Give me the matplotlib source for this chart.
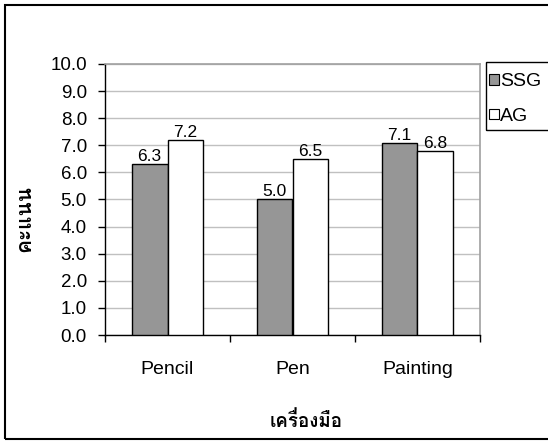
import matplotlib
matplotlib.use("Agg")
import matplotlib.pyplot as plt
from matplotlib.patches import Rectangle, Patch
import numpy as np

# Scores per drawing tool for each group
tools = ["Pencil", "Pen", "Painting"]
ssg_scores = [6.3, 5.0, 7.1]
ag_scores = [7.2, 6.5, 6.8]
series_names = ["SSG", "AG"]
y_ticks = [0.0, 1.0, 2.0, 3.0, 4.0, 5.0, 6.0, 7.0, 8.0, 9.0, 10.0]

LATIN = "Liberation Sans"
THAI = "Loma"

W, H = 548, 442
fig = plt.figure(figsize=(W / 100, H / 100), dpi=100)

def px_rect(x0, y0, x1, y1):
    """Pixel box (from top-left) to figure-fraction [left, bottom, width, height]."""
    return [x0 / W, 1 - y1 / H, (x1 - x0) / W, (y1 - y0) / H]

ax = fig.add_axes(px_rect(105, 64, 480, 335))

x = np.arange(len(tools))
bw = 1 / 3.5
b1 = ax.bar(x - bw / 2, ssg_scores, bw, color="#969696", edgecolor="black",
            linewidth=1.0, label=series_names[0], zorder=3)
b2 = ax.bar(x + bw / 2, ag_scores, bw, color="white", edgecolor="black",
            linewidth=1.0, label=series_names[1], zorder=3)
for bars in (b1, b2):
    ax.bar_label(bars, fmt="%.1f", padding=0, fontsize=12.5, family=LATIN)

ax.set_xlim(-0.5, len(tools) - 0.5)
ax.set_ylim(0, 10)
ax.set_yticks(y_ticks)
ax.set_yticklabels([f"{v:.1f}" for v in y_ticks], family=LATIN, fontsize=13.5)
ax.tick_params(axis="y", direction="out", length=5, width=1, pad=8)

# category boundaries carry the tick marks, centres carry the names
ax.set_xticks(np.arange(len(tools) + 1) - 0.5)
ax.set_xticklabels([])
ax.set_xticks(x, minor=True)
ax.set_xticklabels(tools, minor=True, family=LATIN, fontsize=14)
ax.tick_params(axis="x", which="major", direction="out", length=5, width=1)
ax.tick_params(axis="x", which="minor", length=0, pad=18.5)

ax.yaxis.grid(True, color="#c0c0c0", linewidth=1.0, zorder=0)
ax.set_axisbelow(True)
for side in ("top", "right"):
    ax.spines[side].set_color("#a0a0a0")
    ax.spines[side].set_linewidth(1.2)
for side in ("left", "bottom"):
    ax.spines[side].set_color("black")
    ax.spines[side].set_linewidth(1.0)

fig.text(306 / W, 1 - 427 / H, "เครื่องมือ", family=THAI, fontweight="bold",
         fontsize=13.5, ha="center", va="baseline")
fig.text(24.5 / W, 1 - 219 / H, "คะแนน", family=THAI, fontweight="bold",
         fontsize=15, ha="center", va="center", rotation=90)

# legend entries, with its box drawn separately
handles = [Patch(facecolor="#969696", edgecolor="black", linewidth=0.8),
           Patch(facecolor="white", edgecolor="black", linewidth=0.8)]
fig.legend(handles, series_names, loc="upper left",
           bbox_to_anchor=(483 / W, 1 - 67 / H), frameon=False,
           prop={"family": LATIN, "size": 14}, handlelength=0.47,
           handleheight=0.47, handletextpad=0.07, borderpad=0.33,
           labelspacing=0.9, borderaxespad=0)
fig.patches.append(Rectangle((486 / W, 1 - 130 / H), 80 / W, 68 / H,
                             transform=fig.transFigure, fill=False,
                             edgecolor="black", linewidth=1.0))

# chart border
fig.patches.append(Rectangle((5 / W, 1 - 439 / H), 560 / W, 434 / H,
                             transform=fig.transFigure, fill=False,
                             edgecolor="black", linewidth=1.5))

fig.savefig("out.png", dpi=100)
